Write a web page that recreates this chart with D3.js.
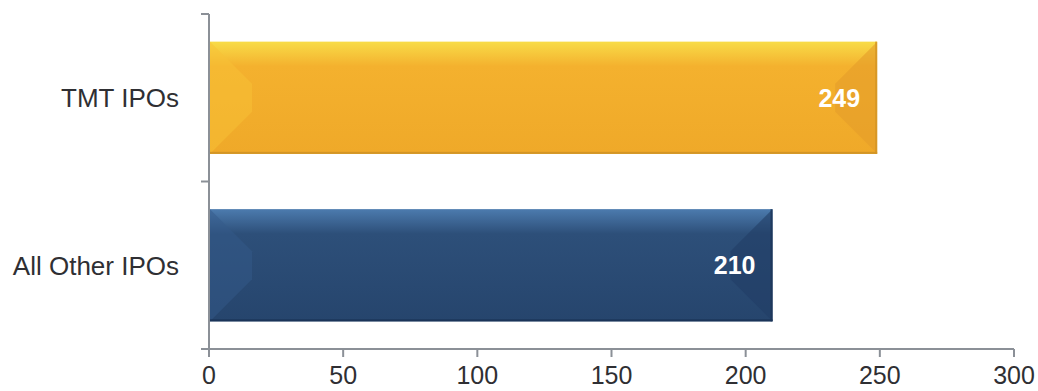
<!DOCTYPE html>
<html><head><meta charset="utf-8">
<script src="https://cdn.jsdelivr.net/npm/d3@7"></script>
<style>html,body{margin:0;padding:0;background:#fff;}svg{display:block;font-family:"Liberation Sans",Arial,sans-serif;}</style>
</head><body>
<svg id="c" width="1038" height="391"></svg>
<script>
const categories = ["TMT IPOs", "All Other IPOs"];
const values = [249, 210];
const xTicks = [0, 50, 100, 150, 200, 250, 300];
const palettes = [
  {top:"#F8DC48", mid:"#F4B12E", bot:"#EFA929", edge:"#D39526", left:"#F8C236", right:"#E59D2A"},
  {top:"#4C7BAE", mid:"#2D4F79", bot:"#26456D", edge:"#1B3458", left:"#34598A", right:"#213D65"}
];

const svg = d3.select("#c");
const m = {left:209, right:1014, top:14, bottom:349};
const x = d3.scaleLinear().domain([0,300]).range([m.left, m.right]);
const y = d3.scaleBand().domain(categories).range([m.top, m.bottom]).paddingInner(0.33).paddingOuter(0.165);
const yb = d3.scaleBand().domain(categories).range([m.top, m.bottom]);

const defs = svg.append("defs");
palettes.forEach((p,i)=>{
  const g = defs.append("linearGradient").attr("id","g"+i).attr("x1",0).attr("y1",0).attr("x2",0).attr("y2",1);
  g.append("stop").attr("offset","0").attr("stop-color",p.top);
  g.append("stop").attr("offset","0.22").attr("stop-color",p.mid);
  g.append("stop").attr("offset","1").attr("stop-color",p.bot);
});

const bars = svg.append("g").selectAll("g").data(categories).join("g");
bars.each(function(c,i){
  const g = d3.select(this);
  const p = palettes[i];
  const x0 = x(0)+1, x1 = x(values[i]), y0 = y(c), y1 = y(c)+y.bandwidth();
  const b = 42, h = y1-y0;
  g.append("rect").attr("x",x0).attr("y",y0).attr("width",x1-x0).attr("height",h).attr("fill","url(#g"+i+")");
  g.append("path").attr("d",`M${x0},${y0}L${x0+b},${y0+b}L${x0+b},${y1-b}L${x0},${y1}Z`).attr("fill",p.left).attr("opacity",0.5);
  g.append("path").attr("d",`M${x1},${y0}L${x1-b},${y0+b}L${x1-b},${y1-b}L${x1},${y1}Z`).attr("fill",p.right).attr("opacity",0.6);
  g.append("rect").attr("x",x0).attr("y",y1-2).attr("width",x1-x0).attr("height",2).attr("fill",p.edge);
  g.append("rect").attr("x",x1-2).attr("y",y0).attr("width",2).attr("height",h).attr("fill",p.edge).attr("opacity",0.8);
  g.append("text").attr("x",x1-17).attr("y",y0+h/2).attr("dy","0.36em").attr("text-anchor","end")
    .attr("fill","#fff").attr("font-weight","bold").attr("font-size",25).text(values[i]);
});

const axisColor = "#8B9097";
const ya = svg.append("g");
ya.append("line").attr("x1",m.left).attr("x2",m.left).attr("y1",m.top).attr("y2",m.bottom).attr("stroke",axisColor).attr("stroke-width",2);
const bounds = [m.top].concat(categories.map(c=>yb(c)+yb.bandwidth()));
ya.selectAll("line.t").data(bounds).join("line").attr("class","t")
  .attr("x1",m.left-8).attr("x2",m.left).attr("y1",d=>d).attr("y2",d=>d).attr("stroke",axisColor).attr("stroke-width",2);
ya.selectAll("text").data(categories).join("text")
  .attr("x",179).attr("y",c=>yb(c)+yb.bandwidth()/2).attr("dy","0.36em").attr("text-anchor","end")
  .attr("font-size",26).attr("fill","#2F2F33").text(d=>d);

const xa = svg.append("g");
xa.append("line").attr("x1",m.left).attr("x2",m.right).attr("y1",m.bottom).attr("y2",m.bottom).attr("stroke",axisColor).attr("stroke-width",2);
xa.selectAll("line.t").data(xTicks).join("line").attr("class","t")
  .attr("x1",d=>x(d)).attr("x2",d=>x(d)).attr("y1",m.bottom).attr("y2",m.bottom+8).attr("stroke",axisColor).attr("stroke-width",2);
xa.selectAll("text").data(xTicks).join("text")
  .attr("x",d=>x(d)).attr("y",384).attr("text-anchor","middle")
  .attr("font-size",25).attr("fill","#2F2F33").text(d=>d);
</script>
</body></html>
